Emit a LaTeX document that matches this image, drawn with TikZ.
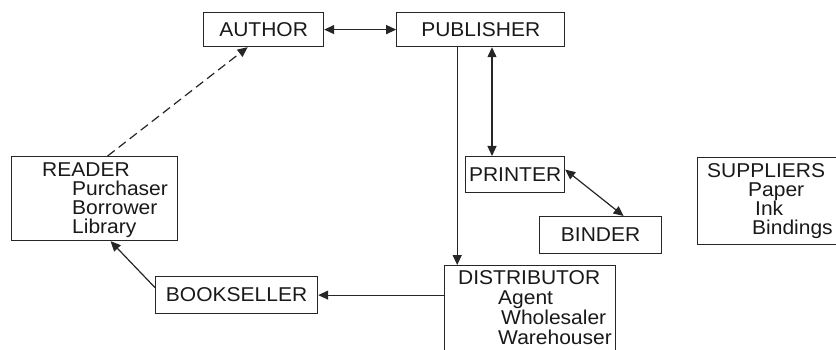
\documentclass[tikz,border=0pt]{standalone}
\usepackage{fontspec}
\setmainfont{Liberation Sans}[FakeStretch=1.05]
\usetikzlibrary{positioning,arrows.meta}
\newcommand{\tightlines}{\setlength{\lineskiplimit}{-20pt}}

\begin{document}
\begin{tikzpicture}[x=1pt, y=-1pt,
        box_node/.style={rectangle, draw=black!85, line width=1.2pt, inner sep=0pt, text=black!90, font=\fontsize{20}{19}\selectfont},
        list_text/.style={align=left, inner sep=0pt, anchor=north west, text=black!90, font=\fontsize{20}{19}\selectfont\tightlines},
        link/.style={black!85, line width=1.2pt, -{Triangle[length=10pt,width=9pt]}},
        both_link/.style={black!85, line width=1.2pt, {Triangle[length=10pt,width=9pt]}-{Triangle[length=10pt,width=9pt]}}
        ]
            \clip (0,0) rectangle (836,350);

            % chain of trade
            \node[box_node, anchor=north west, minimum width=120pt, minimum height=34pt] (author) at (203,12) {AUTHOR};
            \node[box_node, minimum width=168pt, minimum height=34pt] (publisher) [right = 72pt of author] {PUBLISHER};
            \node[box_node, anchor=north west, minimum width=99pt, minimum height=36pt] (printer) at (465,156) {PRINTER};
            \node[box_node, anchor=north west, minimum width=122pt, minimum height=37pt] (binder) at (539,216) {BINDER};
            \node[box_node, anchor=north west, minimum width=162pt, minimum height=37pt] (bookseller) at (155,276) {BOOKSELLER};
            % boxes with lists
            \node[box_node, anchor=north west, minimum width=166pt, minimum height=84pt] (reader) at (11,156) {};
            \node[box_node, anchor=north west, minimum width=171pt, minimum height=110pt] (distributor) at (444,265) {};
            \node[box_node, anchor=north west, minimum width=160pt, minimum height=87pt] (suppliers) at (697,157) {};
            \node[list_text] (reader_text) at (42,162.4)
                {READER\\\hspace*{30pt}Purchaser\\\hspace*{30pt}Borrower\\\hspace*{30pt}Library};
            \node[list_text, font=\fontsize{20}{20}\selectfont\tightlines] (distributor_text) at (458,270.7)
                {DISTRIBUTOR\\\hspace*{40pt}Agent\\\hspace*{43pt}Wholesaler\\\hspace*{40pt}Warehouser};
            \node[list_text] (suppliers_text) at (707,163.7)
                {SUPPLIERS\\\hspace*{41pt}Paper\\\hspace*{48pt}Ink\\\hspace*{45pt}Bindings};

            % Lines
            \coordinate (pub_down) at ([xshift=61pt]publisher.south west);
            \coordinate (printer_up) at ([xshift=27pt]printer.north west);
            \draw[both_link] (author) -- (publisher);
            \draw[link] (pub_down) -- (pub_down |- distributor.north);
            \draw[both_link] (printer_up) -- (printer_up |- publisher.south);
            \draw[both_link] ([yshift=5pt]printer.east) -- ([xshift=23pt]binder.north);
            \draw[link] (distributor.west |- bookseller) -- (bookseller.east);
            \draw[link] ([yshift=7.5pt]bookseller.west) -- ([xshift=16pt]reader.south);
            \draw[link, dash pattern=on 9pt off 5pt] ([xshift=13pt]reader.north) -- ([xshift=-16pt]author.south);
        \end{tikzpicture}
\end{document}
